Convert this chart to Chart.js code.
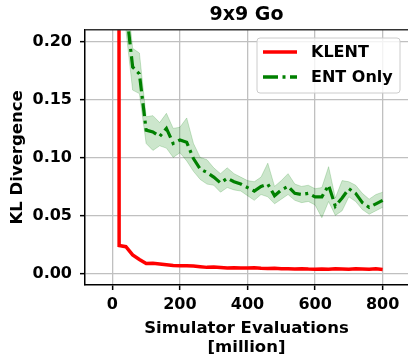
<!DOCTYPE html>
<html>
<head>
<meta charset="utf-8">
<script src="https://cdn.jsdelivr.net/npm/chart.js@4.4.0/dist/chart.umd.min.js"></script>
<style>
  body { margin: 0; background: #fff; }
  #chart { display: block; }
</style>
</head>
<body>
<canvas id="chart" width="408" height="358"></canvas>
<script>
// x values in million simulator evaluations
const entX = [40, 60, 80, 100, 120, 140, 160, 180, 200, 220, 240, 260, 280, 300, 320, 340, 360, 380, 400, 420,
  440, 460, 480, 500, 520, 540, 560, 580, 600, 620, 640, 660, 680, 700, 720, 740, 760, 780, 800];
const entMean = [0.23, 0.178, 0.172, 0.1235, 0.122, 0.118, 0.125, 0.112, 0.115, 0.113, 0.099, 0.09, 0.087, 0.083,
  0.078, 0.082, 0.079, 0.077, 0.074, 0.071, 0.075, 0.077, 0.067, 0.072, 0.075, 0.069, 0.068, 0.069, 0.066, 0.066,
  0.076, 0.058, 0.065, 0.073, 0.069, 0.061, 0.057, 0.06, 0.063];
const entUpper = [0.25, 0.194, 0.19, 0.135, 0.136, 0.13, 0.138, 0.125, 0.126, 0.134, 0.112, 0.1, 0.098, 0.091,
  0.086, 0.091, 0.086, 0.083, 0.08, 0.079, 0.083, 0.095, 0.075, 0.08, 0.086, 0.077, 0.075, 0.076, 0.073, 0.074,
  0.092, 0.065, 0.08, 0.079, 0.076, 0.069, 0.064, 0.068, 0.07];
const entLower = [0.21, 0.158, 0.155, 0.112, 0.106, 0.11, 0.108, 0.1, 0.104, 0.097, 0.088, 0.081, 0.077, 0.076,
  0.07, 0.074, 0.072, 0.071, 0.067, 0.063, 0.068, 0.066, 0.06, 0.064, 0.068, 0.063, 0.061, 0.062, 0.059, 0.048,
  0.062, 0.05, 0.054, 0.066, 0.062, 0.055, 0.051, 0.054, 0.057];

const klentX = [19, 20, 40, 60, 80, 100, 120, 140, 160, 180, 200, 220, 240, 260, 280, 300, 320, 340, 360, 380, 400,
  420, 440, 460, 480, 500, 520, 540, 560, 580, 600, 620, 640, 660, 680, 700, 720, 740, 760, 780, 800];
const klentMean = [0.6, 0.024, 0.023, 0.016, 0.012, 0.0085, 0.0087, 0.0082, 0.0075, 0.0068, 0.0066, 0.0065, 0.0063,
  0.0058, 0.0052, 0.0055, 0.005, 0.0046, 0.0049, 0.0046, 0.0046, 0.0048, 0.0044, 0.0042, 0.0044, 0.004, 0.0041,
  0.0039, 0.004, 0.0037, 0.0036, 0.0038, 0.0036, 0.0041, 0.0038, 0.0036, 0.0039, 0.0037, 0.0036, 0.004, 0.0034];

const xTicks = [0, 200, 400, 600, 800];
const yTicks = [0, 0.05, 0.10, 0.15, 0.20];

const pts = (xs, ys) => xs.map((x, i) => ({ x: x, y: ys[i] }));

Chart.defaults.font.family = '"DejaVu Sans", sans-serif';
Chart.defaults.font.weight = 'bold';
Chart.defaults.color = '#000';

const GREEN = '#008000';
const RED = '#ff0000';
const BAND = 'rgba(0,128,0,0.2)';
const DASHDOT = [13, 4.5, 3, 4.5];

// frame top line + legend box inside the axes
const extras = {
  id: 'extras',
  afterDraw(chart) {
    const ctx = chart.ctx, a = chart.chartArea;
    ctx.save();
    ctx.strokeStyle = '#333';
    ctx.lineWidth = 1.5;
    ctx.beginPath();
    ctx.moveTo(a.left, a.top);
    ctx.lineTo(a.right, a.top);
    ctx.stroke();

    const bx = 257, by = 38, bw = 143, bh = 55;
    ctx.fillStyle = 'rgba(255,255,255,0.8)';
    ctx.strokeStyle = '#cccccc';
    ctx.lineWidth = 1;
    ctx.beginPath();
    ctx.roundRect(bx, by, bw, bh, 3);
    ctx.fill();
    ctx.stroke();

    const items = [
      { label: 'KLENT', color: RED, dash: [] , y: 52 },
      { label: 'ENT Only', color: GREEN, dash: [15, 4.5, 3, 4.5], y: 77 }
    ];
    ctx.font = 'bold 16px "DejaVu Sans"';
    ctx.textBaseline = 'middle';
    items.forEach(it => {
      ctx.strokeStyle = it.color;
      ctx.lineWidth = 3.5;
      ctx.setLineDash(it.dash);
      ctx.beginPath();
      ctx.moveTo(263, it.y);
      ctx.lineTo(297, it.y);
      ctx.stroke();
      ctx.setLineDash([]);
      ctx.fillStyle = '#000';
      ctx.fillText(it.label, 311, it.y + 1);
    });
    ctx.restore();
  }
};

new Chart(document.getElementById('chart'), {
  type: 'line',
  data: {
    datasets: [
      {
        label: 'KLENT', data: pts(klentX, klentMean), borderColor: RED, borderWidth: 3.5,
        pointRadius: 0, fill: false, tension: 0, order: 0
      },
      {
        label: 'ENT Only', data: pts(entX, entMean), borderColor: GREEN, borderWidth: 3.2,
        borderDash: DASHDOT, pointRadius: 0, fill: false, tension: 0, order: 0
      },
      {
        label: 'ENT upper', data: pts(entX, entUpper), borderColor: BAND, borderWidth: 1,
        backgroundColor: BAND, pointRadius: 0, fill: '+1', tension: 0, order: 1
      },
      {
        label: 'ENT lower', data: pts(entX, entLower), borderColor: BAND, borderWidth: 1,
        pointRadius: 0, fill: false, tension: 0, order: 1
      }
    ]
  },
  options: {
    responsive: false,
    animation: false,
    devicePixelRatio: 1,
    layout: { padding: 0 },
    plugins: {
      legend: { display: false },
      tooltip: { enabled: false },
      title: {
        display: true, text: '9x9 Go', fullSize: false,
        font: { size: 19, weight: 'bold' }, color: '#000',
        padding: { top: 4, bottom: 3 }
      }
    },
    scales: {
      x: {
        type: 'linear', min: -81, max: 875,
        afterBuildTicks: s => { s.ticks = xTicks.map(v => ({ value: v })); },
        afterFit: s => { s.height = 73; },
        ticks: { font: { size: 16, weight: 'bold' }, padding: 5, maxRotation: 0, callback: v => String(v) },
        grid: { color: '#c0c0c0', lineWidth: 1.3, tickColor: '#000', tickWidth: 1.5, tickLength: 5 },
        border: { color: '#000', width: 1.5 },
        title: {
          display: true, text: ['Simulator Evaluations', '[million]'],
          font: { size: 16.5, weight: 'bold', lineHeight: 1.15 }, padding: { top: 0, bottom: 1 }
        }
      },
      y: {
        type: 'linear', min: -0.01, max: 0.21,
        afterBuildTicks: s => { s.ticks = yTicks.map(v => ({ value: v })); },
        afterFit: s => { s.width = 85; },
        ticks: { font: { size: 16, weight: 'bold' }, padding: 8, callback: v => v.toFixed(2) },
        grid: { color: '#c0c0c0', lineWidth: 1.3, tickColor: '#000', tickWidth: 1.5, tickLength: 5 },
        border: { color: '#000', width: 1.5 },
        title: {
          display: true, text: 'KL Divergence',
          font: { size: 16.5, weight: 'bold' }, padding: { top: 8, bottom: 0 }
        }
      }
    }
  },
  plugins: [extras]
});
</script>
</body>
</html>
